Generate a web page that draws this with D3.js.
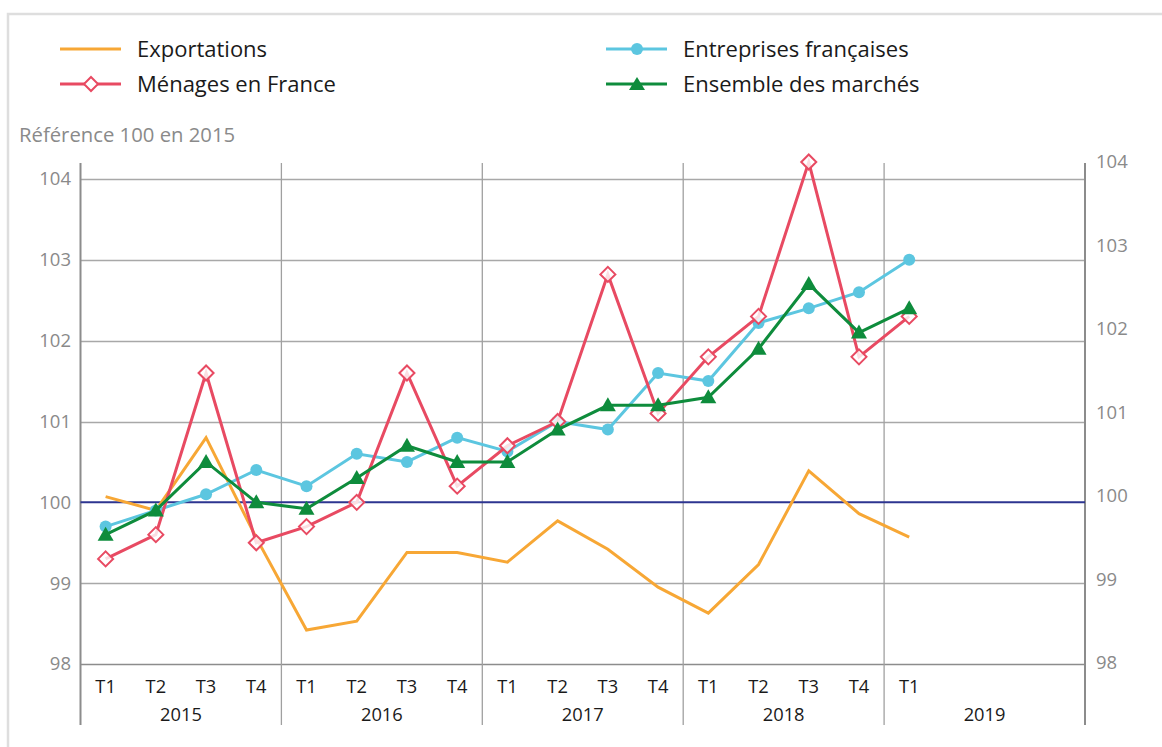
<!DOCTYPE html>
<html><head><meta charset="utf-8">
<script src="https://cdn.jsdelivr.net/npm/d3@7"></script>
<style>
html,body{margin:0;padding:0;background:#fff;}
svg{display:block;font-family:"Open Sans",sans-serif;}
</style></head>
<body>
<svg id="chart" width="1162" height="747"></svg>
<script>
const years = ["2015","2016","2017","2018","2019"];
const quarters = ["T1","T2","T3","T4"];
const periods = ["2015T1","2015T2","2015T3","2015T4","2016T1","2016T2","2016T3","2016T4","2017T1","2017T2","2017T3","2017T4","2018T1","2018T2","2018T3","2018T4","2019T1"];
const exportations = [100.07,99.9,100.8,99.56,98.42,98.53,99.38,99.38,99.26,99.77,99.42,98.95,98.63,99.23,100.39,99.86,99.57];
const entreprises = [99.7,99.9,100.1,100.4,100.2,100.6,100.5,100.8,100.63,101.0,100.9,101.6,101.5,102.22,102.4,102.6,103.0];
const menages = [99.3,99.6,101.6,99.5,99.7,100.0,101.6,100.2,100.7,101.0,102.82,101.1,101.8,102.3,104.21,101.8,102.3];
const ensemble = [99.6,99.9,100.5,100.0,99.92,100.3,100.7,100.5,100.5,100.9,101.2,101.2,101.3,101.9,102.7,102.1,102.4];
const yTicks = [98,99,100,101,102,103,104];
const seriesNames = ["Exportations","Ménages en France","Entreprises françaises","Ensemble des marchés"];
const yLabel = "Référence 100 en 2015";

const colors = {exp:"#f7a735", men:"#e84a62", ent:"#5cc6e0", ens:"#0e8c3c"};
const svg = d3.select("#chart");

// frame
svg.append("path").attr("d","M8,760 L8,14 L1170,14").attr("fill","none").attr("stroke","#dedede").attr("stroke-width",2.5);

const allQ = [];
years.forEach(y=>quarters.forEach(q=>allQ.push(y+q)));
const x = d3.scaleBand().domain(allQ).range([80.5,1085]);
const xYear = d3.scaleBand().domain(years).range([80.5,1085]);
const y = d3.scaleLinear().domain([98,104]).range([664,179]);
const yR = d3.scaleLinear().domain([98,104]).range([663,162]);
const cx = p => x(p)+x.bandwidth()/2;

// horizontal gridlines
svg.append("g").selectAll("line").data(yTicks.filter(v=>v!==100)).join("line")
  .attr("x1",80.5).attr("x2",1085).attr("y1",d=>Math.round(y(d))+0.5).attr("y2",d=>Math.round(y(d))+0.5)
  .attr("stroke",d=>d===98?"#8c8c8c":"#a8a8a8").attr("stroke-width",1.5);

// vertical year separators
const vx = [80.5, ...years.slice(1).map(yy=>xYear(yy)), 1085];
svg.append("g").selectAll("line").data(vx).join("line")
  .attr("x1",d=>d).attr("x2",d=>d).attr("y1",163).attr("y2",725)
  .attr("stroke",(d,i)=>(i===0||i===vx.length-1)?"#8c8c8c":"#a0a0a0")
  .attr("stroke-width",(d,i)=>(i===0||i===vx.length-1)?2:1.3);

// 100 line
svg.append("line").attr("x1",80.5).attr("x2",1085).attr("y1",y(100)).attr("y2",y(100))
  .attr("stroke","#2d3590").attr("stroke-width",2);

// left axis labels
svg.append("g").selectAll("text").data(yTicks).join("text")
  .attr("x",71).attr("y",d=>y(d)).attr("dy","0.35em").attr("text-anchor","end")
  .attr("font-size",18.5).attr("fill","#8a8a8a").text(d=>d);
// right axis labels
svg.append("g").selectAll("text").data(yTicks).join("text")
  .attr("x",1096).attr("y",d=>yR(d)).attr("dy","0.35em").attr("text-anchor","start")
  .attr("font-size",18.5).attr("fill","#8a8a8a").text(d=>d);

// y label
svg.append("text").attr("x",19).attr("y",141.5).attr("font-size",20.3).attr("fill","#8a8a8a").text(yLabel);

// x labels
svg.append("g").selectAll("text").data(periods).join("text")
  .attr("x",d=>cx(d)).attr("y",693).attr("text-anchor","middle")
  .attr("font-size",18.3).attr("fill","#1a1a1a").text(d=>d.slice(4));
svg.append("g").selectAll("text").data(years).join("text")
  .attr("x",d=>xYear(d)+xYear.bandwidth()/2).attr("y",720.5).attr("text-anchor","middle")
  .attr("font-size",18.3).attr("fill","#1a1a1a").text(d=>d);

const line = d3.line().x((d,i)=>cx(periods[i])).y(d=>y(d));
function drawLine(vals,color){
  svg.append("path").datum(vals).attr("d",line).attr("fill","none")
    .attr("stroke",color).attr("stroke-width",3).attr("stroke-linejoin","miter");
}
const diamond = s=>`M0,${-s}L${s},0L0,${s}L${-s},0Z`;
const tri = `M0,-8L8,6L-8,6Z`;

drawLine(exportations,colors.exp);
drawLine(entreprises,colors.ent);
svg.append("g").selectAll("circle").data(entreprises).join("circle")
  .attr("cx",(d,i)=>cx(periods[i])).attr("cy",d=>y(d)).attr("r",6).attr("fill",colors.ent);
drawLine(menages,colors.men);
svg.append("g").selectAll("path").data(menages).join("path")
  .attr("transform",(d,i)=>`translate(${cx(periods[i])},${y(d)})`).attr("d",diamond(7.5))
  .attr("fill","#fff").attr("fill-opacity",0.82).attr("stroke",colors.men).attr("stroke-width",2);
drawLine(ensemble,colors.ens);
svg.append("g").selectAll("path").data(ensemble).join("path")
  .attr("transform",(d,i)=>`translate(${cx(periods[i])},${y(d)})`).attr("d",tri).attr("fill",colors.ens);

// legend
const leg = [
  {name:seriesNames[0],color:colors.exp,mk:null,x:60,y:49},
  {name:seriesNames[1],color:colors.men,mk:"d",x:60,y:84},
  {name:seriesNames[2],color:colors.ent,mk:"c",x:606,y:49},
  {name:seriesNames[3],color:colors.ens,mk:"t",x:606,y:84}
];
const lg = svg.append("g").selectAll("g").data(leg).join("g").attr("transform",d=>`translate(${d.x},${d.y})`);
lg.append("line").attr("x1",0).attr("x2",61).attr("stroke",d=>d.color).attr("stroke-width",3);
lg.filter(d=>d.mk==="d").append("path").attr("transform","translate(31,0)").attr("d",diamond(7))
  .attr("fill","#fff").attr("stroke",d=>d.color).attr("stroke-width",2);
lg.filter(d=>d.mk==="c").append("circle").attr("cx",31).attr("r",6).attr("fill",d=>d.color);
lg.filter(d=>d.mk==="t").append("path").attr("transform","translate(31,0)").attr("d","M0,-7L8,6L-8,6Z").attr("fill",d=>d.color);
lg.append("text").attr("x",77).attr("dy","0.35em").attr("font-size",22).attr("fill","#1a1a1a").text(d=>d.name);
</script>
</body></html>
